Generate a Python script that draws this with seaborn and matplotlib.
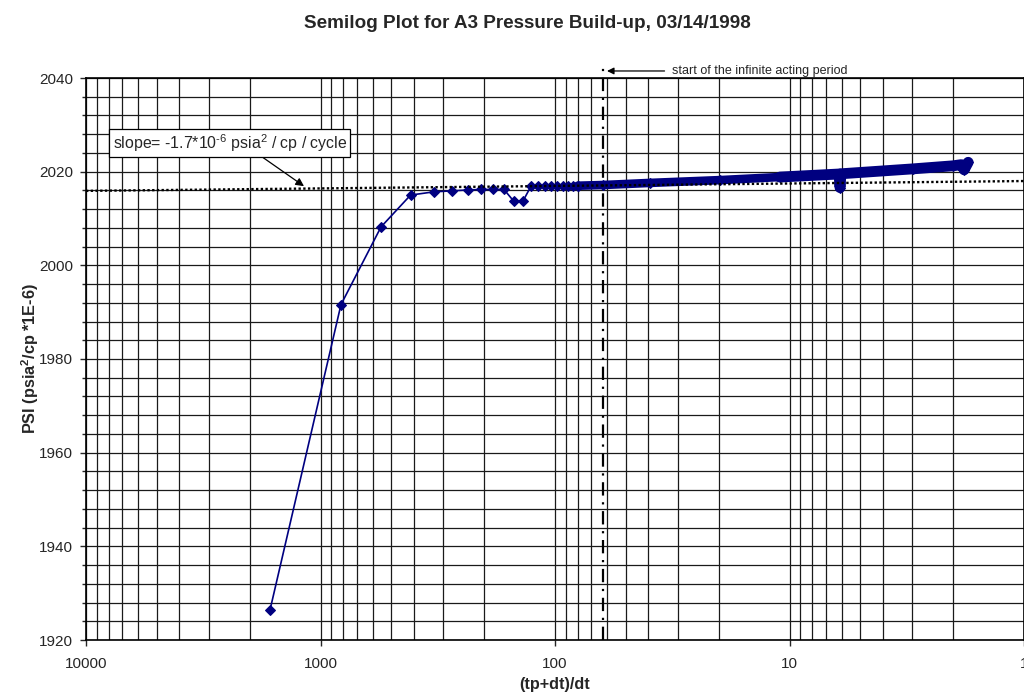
import numpy as np
import pandas as pd
import matplotlib
matplotlib.use("Agg")
import matplotlib.pyplot as plt
import matplotlib.transforms as mtransforms
from matplotlib.ticker import FixedLocator, LogLocator, NullFormatter
import seaborn as sns

# Early build-up points, each one (tp+dt)/dt vs PSI
x_early = [1642, 818, 552, 413, 328, 274, 235, 206, 183, 165, 150, 137, 126.6,
           117.8, 110.3, 104.0, 97.8, 92.7, 88.3, 84.0, 80.0]
y_early = [1926.4, 1991.6, 2008.2, 2015.0, 2015.7, 2015.9, 2016.1, 2016.2, 2016.2,
           2016.2, 2013.7, 2013.7, 2016.9, 2016.9, 2016.9, 2016.9, 2016.95,
           2016.95, 2017.0, 2017.0, 2017.0]

# Late-time dense record (overlapping points form a band)
x_late = [80.0, 62.4, 39.3, 19.8, 11.0, 6.15, 6.09, 6.03, 2.97, 2.01, 1.85, 1.80, 1.73]
y_late = [2017.0, 2017.15, 2017.6, 2018.2, 2018.85, 2019.5, 2016.6, 2019.55,
          2020.6, 2021.25, 2021.5, 2020.4, 2022.0]

# Semilog straight line through the infinite-acting data
slope_x = [10000, 1]
slope_y = [2015.9, 2018.0]

# Start of the infinite acting period
x_iarf = 62.4

x_ticks = [10000, 1000, 100, 10, 1]
x_ticklabels = ["10000", "1000", "100", "10", "1"]
y_major = list(range(1920, 2041, 20))
y_minor = list(range(1920, 2041, 4))

sns.set_style("white")
plt.rcParams["font.family"] = ["Liberation Sans", "DejaVu Sans"]
plt.rcParams["mathtext.fontset"] = "custom"
plt.rcParams["mathtext.rm"] = "Liberation Sans"
plt.rcParams["mathtext.bf"] = "Liberation Sans:bold"
plt.rcParams["mathtext.it"] = "Liberation Sans:italic"

NAVY = "#000080"

fig = plt.figure(figsize=(10.24, 6.98), dpi=100)
ax = fig.add_axes([86 / 1024, 58 / 698, 938 / 1024, 562 / 698])

early = pd.DataFrame({"x": x_early, "y": y_early})
late = pd.DataFrame({"x": x_late, "y": y_late})

# Late band: thick navy stroke with diamonds
split = 4
sns.lineplot(data=late.iloc[: split + 1], x="x", y="y", sort=False, estimator=None,
             color=NAVY, lw=6.2, solid_capstyle="round", ax=ax, zorder=4)
sns.lineplot(data=late.iloc[split:], x="x", y="y", sort=False, estimator=None,
             color=NAVY, lw=7.8, solid_capstyle="round", solid_joinstyle="round",
             ax=ax, zorder=4)
sns.lineplot(data=late, x="x", y="y", sort=False, estimator=None, color=NAVY,
             lw=1.2, marker="D", markersize=5.5, markeredgecolor=NAVY, ax=ax, zorder=5)

# Early points
sns.lineplot(data=early, x="x", y="y", sort=False, estimator=None, color=NAVY,
             lw=1.2, marker="D", markersize=5, markeredgecolor=NAVY, ax=ax, zorder=5)

# Semilog slope line
ax.plot(slope_x, slope_y, color="black", lw=1.7, ls=(0, (1, 1)), zorder=6)

ax.set_xscale("log")
ax.set_xlim(10000, 1)
ax.set_ylim(1920, 2040)

ax.xaxis.set_major_locator(FixedLocator(x_ticks))
ax.set_xticklabels(x_ticklabels)
ax.xaxis.set_minor_locator(LogLocator(base=10, subs=np.arange(2, 10)))
ax.xaxis.set_minor_formatter(NullFormatter())
ax.yaxis.set_major_locator(FixedLocator(y_major))
ax.yaxis.set_minor_locator(FixedLocator(y_minor))

ax.grid(True, which="both", color="#1a1a1a", lw=0.9)
ax.set_axisbelow(True)
for s in ax.spines.values():
    s.set_color("black")
    s.set_linewidth(1.2)

ax.tick_params(axis="x", which="major", direction="out", length=4.5, width=1,
               labelsize=11, pad=8, bottom=True)
ax.tick_params(axis="x", which="minor", length=0)
ax.tick_params(axis="y", which="major", direction="out", length=4.5, width=1,
               labelsize=11, pad=5, left=True)
ax.tick_params(axis="y", which="minor", direction="out", length=3, width=1, left=True)

ax.set_xlabel("")
ax.set_ylabel("")

# Vertical dash-dot marker for the start of infinite acting flow
ax.axvline(x_iarf, ymin=0, ymax=1.02, color="black", lw=1.6,
           ls=(0, (6, 3, 1, 3)), clip_on=False, zorder=7)

trans = mtransforms.blended_transform_factory(ax.transData, ax.transAxes)
ax.annotate("start of the infinite acting period", xy=(60.0, 1.0125),
            xycoords=trans, xytext=(31.7, 1.0125), textcoords=trans,
            fontsize=9, va="center", ha="left",
            arrowprops=dict(arrowstyle="-|>", color="black", lw=0.9,
                            mutation_scale=10, shrinkA=3, shrinkB=0),
            annotation_clip=False)

ax.annotate(r"slope= -1.7*10$^{\text{-6}}$ psia$^{2}$ / cp / cycle",
            xy=(1176, 2016.9), xytext=(7700, 2026.1),
            fontsize=11.4, va="center", ha="left", zorder=8,
            bbox=dict(boxstyle="square,pad=0.2", fc="white", ec="black", lw=0.9),
            arrowprops=dict(arrowstyle="-|>", color="black", lw=0.9,
                            mutation_scale=12, relpos=(0.62, 0.0), shrinkA=0,
                            shrinkB=0))

fig.text(527 / 1024, 1 - 24 / 698, "Semilog Plot for A3 Pressure Build-up, 03/14/1998",
         ha="center", va="center", fontsize=13.6, fontweight="bold")
fig.text(555 / 1024, 1 - 685 / 698, "(tp+dt)/dt", ha="center", va="center",
         fontsize=11.7, fontweight="bold")
fig.text(30 / 1024, 1 - 359 / 698, r"PSI (psia$\mathbf{^{2}}$/cp *1E-6)",
         ha="center", va="center", rotation=90, fontsize=11.7, fontweight="bold")

fig.savefig("out.png", dpi=100)
